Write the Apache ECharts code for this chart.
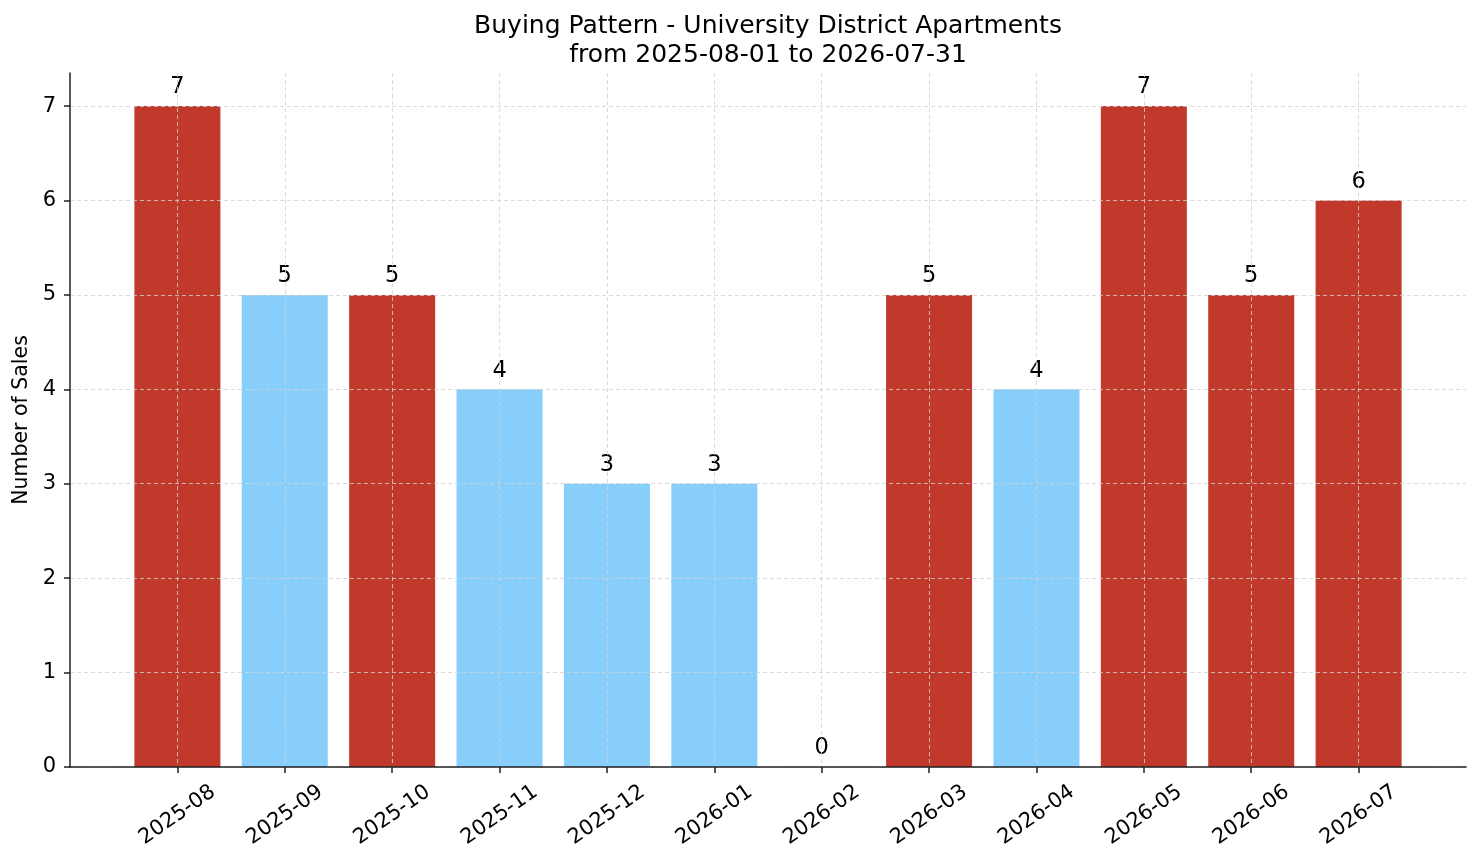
<!DOCTYPE html>
<html>
<head>
<meta charset="utf-8">
<script src="https://cdn.jsdelivr.net/npm/echarts@6/dist/echarts.min.js"></script>
<style>
  html, body { margin: 0; padding: 0; background: #fff; }
  #chart { width: 1481px; height: 863px; }
</style>
</head>
<body>
<div id="chart"></div>
<script>
// 月份
var months = ['2025-08', '2025-09', '2025-10', '2025-11', '2025-12', '2026-01',
              '2026-02', '2026-03', '2026-04', '2026-05', '2026-06', '2026-07'];
// 销量
var sales = [7, 5, 5, 4, 3, 3, 0, 5, 4, 7, 5, 6];
// 高亮(红色)月份
var peak = [1, 0, 1, 0, 0, 0, 0, 1, 0, 1, 1, 1];
var yTicks = [0, 1, 2, 3, 4, 5, 6, 7];

var RED = '#c0392b',
    BLUE = '#87cefa',
    FONT = 'DejaVu Sans';

var chart = echarts.init(document.getElementById('chart'));

var xPos = months.map(function(m, i) { return i; });

var barData = sales.map(function(v, i) {
    return {
        value: [i, v],
        itemStyle: { color: peak[i] ? RED : BLUE }
    };
});

var gridLine = {
    show: true,
    lineStyle: { color: '#d2d2d2', width: 0.8, type: [4, 3] }
};

chart.setOption({
    animation: false,
    backgroundColor: '#fff',
    textStyle: { fontFamily: FONT },
    title: {
        text: 'Buying Pattern - University District Apartments\nfrom 2025-08-01 to 2026-07-31',
        left: 768,
        top: 12,
        padding: 0,
        textAlign: 'center',
        textStyle: { fontFamily: FONT, fontSize: 25, fontWeight: 'normal', color: '#000', lineHeight: 29 }
    },
    grid: { left: 70, right: 15, top: 73, bottom: 96 },
    xAxis: {
        type: 'value',
        min: -1,
        max: 12,
        interval: 1,
        z: 5,
        axisLine: { show: true, onZero: false, lineStyle: { color: '#222', width: 1.5 } },
        axisTick: { show: true, length: 6, customValues: xPos, lineStyle: { color: '#222', width: 1.5 } },
        axisLabel: {
            customValues: xPos,
            rotate: 35,
            align: 'center',
            verticalAlign: 'middle',
            margin: 48,
            fontSize: 21,
            color: '#000',
            fontFamily: FONT,
            formatter: function(v) { return months[v] || ''; }
        },
        splitLine: gridLine
    },
    yAxis: {
        type: 'value',
        min: 0,
        max: 7.35,
        interval: 1,
        z: 5,
        name: 'Number of Sales',
        nameLocation: 'middle',
        nameGap: 33,
        nameTextStyle: { fontSize: 20.5, color: '#000', fontFamily: FONT },
        axisLine: { show: true, onZero: false, lineStyle: { color: '#222', width: 1.5 } },
        axisTick: { show: true, length: 6, customValues: yTicks, lineStyle: { color: '#222', width: 1.5 } },
        axisLabel: { customValues: yTicks, margin: 14, fontSize: 21, color: '#000', fontFamily: FONT },
        splitLine: gridLine
    },
    series: [{
        type: 'bar',
        barWidth: 86,
        data: barData,
        label: {
            show: true,
            position: 'top',
            distance: 7,
            fontSize: 22.5,
            color: '#000',
            fontFamily: FONT,
            formatter: function(p) { return p.value[1]; }
        }
    }]
});
</script>
</body>
</html>
